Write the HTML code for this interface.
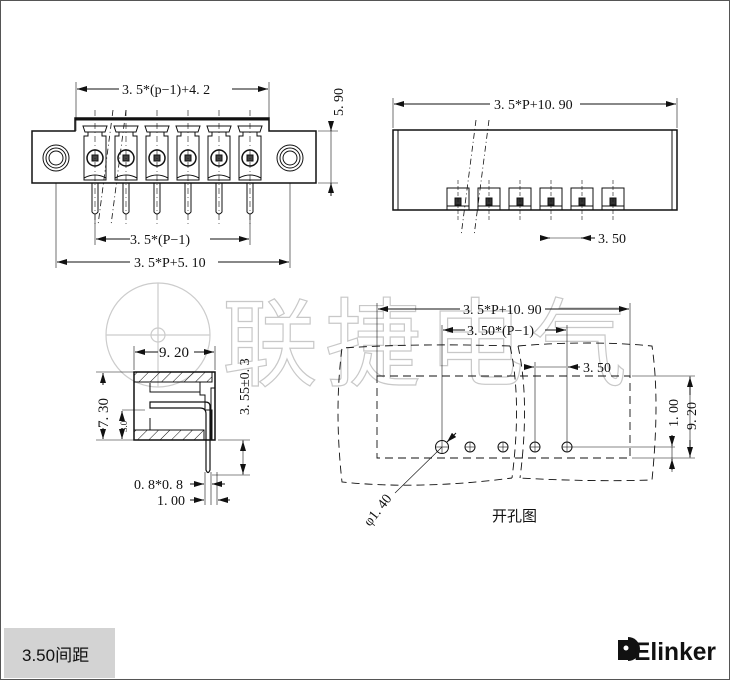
<!DOCTYPE html>
<html><head><meta charset="utf-8"><style>
body{margin:0;background:#fff}
svg{display:block}
text{font-family:"Liberation Serif","Noto Serif CJK SC",serif;font-size:14px;fill:#111}
</style></head><body>
<svg width="730" height="680" viewBox="0 0 730 680" xmlns="http://www.w3.org/2000/svg">
<defs>
<marker id="a" viewBox="0 0 10 6" refX="10" refY="3" markerWidth="10" markerHeight="6" orient="auto-start-reverse"><path d="M0,0L10,3L0,6z" fill="#111"/></marker>
<pattern id="h" width="8" height="8" patternUnits="userSpaceOnUse" patternTransform="rotate(45)"><line x1="0" y1="0" x2="0" y2="8" stroke="#111" stroke-width="1"/></pattern>
</defs>
<rect x="0.5" y="0.5" width="729" height="679" fill="none" stroke="#555"/>
<!-- watermark -->
<g fill="none" stroke="#ccc" stroke-width="1.2">
<circle cx="158" cy="335" r="52"/><circle cx="158" cy="335" r="7"/>
<line x1="106" y1="335" x2="210" y2="335"/><line x1="158" y1="283" x2="158" y2="387"/>
</g>
<text x="222" y="378" style="font-family:'Noto Sans CJK SC',sans-serif;font-size:96px;fill:none;stroke:#c8c8c8;stroke-width:1.2" textLength="405">联捷电气</text>

<g stroke="#111" fill="none" stroke-width="1">
<!-- front view -->
<path d="M32,131H75V118H269V131H316V183H32Z" stroke-width="1.5"/>
<line x1="75" y1="119" x2="269" y2="119" stroke-width="3"/>
<circle cx="56" cy="158" r="13"/><circle cx="56" cy="158" r="10"/><circle cx="56" cy="158" r="7"/>
<circle cx="290" cy="158" r="13"/><circle cx="290" cy="158" r="10"/><circle cx="290" cy="158" r="7"/>
<g id="m">
<path d="M83,126H107L105,132H85Z"/>
<path d="M84,136H88V132H102V136H106V180H84Z"/>
<circle cx="95" cy="158" r="8" stroke-width="1.5"/><rect x="92" y="155" width="6" height="6" fill="#444"/>
<path d="M84,178Q95,172 106,178"/>
<path d="M92,183V212Q95,216 98,212V183"/>
<line x1="95" y1="110" x2="95" y2="225" stroke-dasharray="6,3,1,3" stroke-width=".6"/>
</g>
<use href="#m" x="31"/><use href="#m" x="62"/><use href="#m" x="93"/><use href="#m" x="124"/><use href="#m" x="155"/>
<line x1="113" y1="110" x2="98" y2="225" stroke-dasharray="6,3,1,3" stroke-width=".8"/>
<line x1="126" y1="110" x2="111" y2="225" stroke-dasharray="6,3,1,3" stroke-width=".8"/>
<line x1="76" y1="82" x2="76" y2="131" stroke-width=".6"/><line x1="269" y1="82" x2="269" y2="131" stroke-width=".6"/>
<line x1="77" y1="89" x2="119" y2="89" marker-start="url(#a)"/><line x1="232" y1="89" x2="268" y2="89" marker-end="url(#a)"/>
<line x1="95" y1="215" x2="95" y2="245" stroke-width=".6"/><line x1="250" y1="215" x2="250" y2="245" stroke-width=".6"/>
<line x1="96" y1="239" x2="130" y2="239" marker-start="url(#a)"/><line x1="210" y1="239" x2="249" y2="239" marker-end="url(#a)"/>
<line x1="56" y1="183" x2="56" y2="268" stroke-width=".6"/><line x1="290" y1="183" x2="290" y2="268" stroke-width=".6"/>
<line x1="57" y1="262" x2="130" y2="262" marker-start="url(#a)"/><line x1="218" y1="262" x2="289" y2="262" marker-end="url(#a)"/>
<line x1="318" y1="131" x2="338" y2="131" stroke-width=".6"/><line x1="318" y1="183" x2="338" y2="183" stroke-width=".6"/>
<line x1="331" y1="124" x2="331" y2="131" marker-end="url(#a)"/><line x1="331" y1="196" x2="331" y2="183" marker-end="url(#a)"/>
<line x1="331" y1="131" x2="331" y2="183" stroke-width=".6"/>

<!-- top right view -->
<rect x="393" y="130" width="284" height="80" stroke-width="1.5"/>
<line x1="398" y1="130" x2="398" y2="210"/><line x1="672" y1="130" x2="672" y2="210"/>
<g id="b">
<rect x="447" y="188" width="22" height="22"/>
<rect x="455" y="198" width="6" height="7" fill="#333"/>
<line x1="447" y1="206" x2="469" y2="206"/>
<line x1="458" y1="180" x2="458" y2="222" stroke-dasharray="4,2" stroke-width=".6"/>
</g>
<use href="#b" x="31"/><use href="#b" x="62"/><use href="#b" x="93"/><use href="#b" x="124"/><use href="#b" x="155"/>
<line x1="476" y1="120" x2="461" y2="236" stroke-dasharray="6,3,1,3" stroke-width=".8"/>
<line x1="489" y1="120" x2="474" y2="236" stroke-dasharray="6,3,1,3" stroke-width=".8"/>
<line x1="393" y1="98" x2="393" y2="128" stroke-width=".6"/><line x1="677" y1="98" x2="677" y2="128" stroke-width=".6"/>
<line x1="394" y1="104" x2="490" y2="104" marker-start="url(#a)"/><line x1="580" y1="104" x2="676" y2="104" marker-end="url(#a)"/>
<line x1="540" y1="238" x2="550" y2="238" marker-end="url(#a)"/><line x1="550" y1="238" x2="581" y2="238" stroke-width=".6"/><line x1="595" y1="238" x2="581" y2="238" marker-end="url(#a)"/>

<!-- side view -->
<rect x="134" y="372" width="81" height="68" stroke-width="1.5"/>
<rect x="134" y="372" width="78" height="10" fill="url(#h)"/>
<rect x="134" y="430" width="70" height="10" fill="url(#h)"/>
<path d="M200,382V395H205V410H212V440" />
<path d="M150,383V392H200"/><path d="M150,418V430"/>
<path d="M150,408H200Q206,408 206,414V470Q208,475 210,470V406Q210,402 205,402H150Z" stroke-width="1.2"/>
<rect x="211" y="388" width="4" height="52"/>
<line x1="134" y1="346" x2="134" y2="370" stroke-width=".6"/><line x1="215" y1="346" x2="215" y2="370" stroke-width=".6"/>
<line x1="135" y1="352" x2="158" y2="352" marker-start="url(#a)"/><line x1="194" y1="352" x2="214" y2="352" marker-end="url(#a)"/>
<line x1="96" y1="372" x2="160" y2="372" stroke-width=".6"/><line x1="96" y1="440" x2="134" y2="440" stroke-width=".6"/>
<line x1="103" y1="373" x2="103" y2="385" marker-start="url(#a)"/><line x1="103" y1="428" x2="103" y2="439" marker-end="url(#a)"/>
<line x1="122" y1="410" x2="145" y2="410" stroke-width=".6"/>
<line x1="122" y1="411" x2="122" y2="416" marker-start="url(#a)"/><line x1="122" y1="434" x2="122" y2="439" marker-end="url(#a)"/>
<line x1="218" y1="440" x2="250" y2="440" stroke-width=".6"/><line x1="212" y1="475" x2="250" y2="475" stroke-width=".6"/>
<line x1="243" y1="440" x2="243" y2="475" stroke-width=".6"/>
<line x1="243" y1="450" x2="243" y2="441" marker-end="url(#a)"/><line x1="243" y1="465" x2="243" y2="474" marker-end="url(#a)"/>
<line x1="205" y1="472" x2="205" y2="505" stroke-width=".6"/><line x1="211" y1="472" x2="211" y2="505" stroke-width=".6"/><line x1="217" y1="472" x2="217" y2="505" stroke-width=".6"/>
<line x1="190" y1="484" x2="204" y2="484" marker-end="url(#a)"/><line x1="225" y1="484" x2="212" y2="484" marker-end="url(#a)"/>
<line x1="190" y1="500" x2="204" y2="500" marker-end="url(#a)"/><line x1="230" y1="500" x2="218" y2="500" marker-end="url(#a)"/>

<!-- hole pattern -->
<g stroke-dasharray="8,5" stroke-width=".9">
<path d="M510,346Q420,343 342,348Q334,410 342,482Q420,490 512,478"/>
<path d="M510,346Q522,400 512,478"/>
<path d="M518,346Q530,400 520,478"/>
<path d="M518,346Q590,340 652,346Q660,400 652,480Q590,482 520,478"/>
<rect x="377" y="376" width="253" height="82"/>
</g>
<g stroke-width="1">
<circle cx="442" cy="447" r="6.5"/><circle cx="470" cy="447" r="5"/><circle cx="503" cy="447" r="5"/><circle cx="535" cy="447" r="5"/><circle cx="567" cy="447" r="5"/>
</g>
<g stroke-width=".6">
<line x1="436" y1="447" x2="448" y2="447"/><line x1="442" y1="441" x2="442" y2="453"/>
<line x1="465" y1="447" x2="475" y2="447"/><line x1="470" y1="442" x2="470" y2="452"/>
<line x1="498" y1="447" x2="508" y2="447"/><line x1="503" y1="442" x2="503" y2="452"/>
<line x1="530" y1="447" x2="540" y2="447"/><line x1="535" y1="442" x2="535" y2="452"/>
<line x1="562" y1="447" x2="572" y2="447"/><line x1="567" y1="442" x2="567" y2="452"/>
<line x1="377" y1="303" x2="377" y2="376"/><line x1="630" y1="303" x2="630" y2="376"/>
<line x1="442" y1="325" x2="442" y2="441"/><line x1="567" y1="325" x2="567" y2="442"/><line x1="535" y1="362" x2="535" y2="442"/>
<line x1="572" y1="447" x2="675" y2="447"/><line x1="632" y1="376" x2="695" y2="376"/><line x1="632" y1="458" x2="695" y2="458"/>
<line x1="690" y1="376" x2="690" y2="458"/><line x1="672" y1="440" x2="672" y2="472"/>
<line x1="442" y1="447" x2="395" y2="493"/>
</g>
<line x1="378" y1="309" x2="460" y2="309" marker-start="url(#a)"/><line x1="545" y1="309" x2="629" y2="309" marker-end="url(#a)"/>
<line x1="443" y1="330" x2="465" y2="330" marker-start="url(#a)"/><line x1="545" y1="330" x2="566" y2="330" marker-end="url(#a)"/>
<line x1="525" y1="367" x2="534" y2="367" marker-end="url(#a)"/><line x1="536" y1="367" x2="566" y2="367" stroke-width=".6"/><line x1="580" y1="367" x2="568" y2="367" marker-end="url(#a)"/>
<line x1="690" y1="395" x2="690" y2="377" marker-end="url(#a)"/><line x1="690" y1="440" x2="690" y2="457" marker-end="url(#a)"/>
<line x1="672" y1="435" x2="672" y2="446" marker-end="url(#a)"/><line x1="672" y1="470" x2="672" y2="459" marker-end="url(#a)"/>
<line x1="456" y1="433" x2="447" y2="442" marker-end="url(#a)"/>
</g>

<!-- labels -->
<text x="122" y="94">3. 5*(p−1)+4. 2</text>
<text transform="translate(343,116) rotate(-90)">5. 90</text>
<text x="130" y="244">3. 5*(P−1)</text>
<text x="134" y="267">3. 5*P+5. 10</text>
<text x="494" y="109">3. 5*P+10. 90</text>
<text x="598" y="243">3. 50</text>
<text x="159" y="357" style="font-size:15px">9. 20</text>
<text transform="translate(108,428) rotate(-90)" style="font-size:15px">7. 30</text>
<text transform="translate(127,432) rotate(-90)" style="font-size:9px">3.0</text>
<text transform="translate(249,415) rotate(-90)">3. 55±0. 3</text>
<text x="134" y="489">0. 8*0. 8</text>
<text x="157" y="505">1. 00</text>
<text x="463" y="314">3. 5*P+10. 90</text>
<text x="467" y="335">3. 50*(P−1)</text>
<text x="583" y="372">3. 50</text>
<text transform="translate(678,427) rotate(-90)">1. 00</text>
<text transform="translate(696,430) rotate(-90)">9. 20</text>
<text transform="translate(370,527) rotate(-52)">φ1. 40</text>
<text x="492" y="521" style="font-family:'Noto Sans CJK SC',sans-serif;font-size:15px">开孔图</text>

<!-- footer -->
<rect x="4" y="628" width="111" height="50" fill="#d3d3d3"/>
<text x="22" y="661" style="font-family:'Liberation Sans','Noto Sans CJK SC',sans-serif;font-size:17px">3.50间距</text>
<path d="M618,640H628V660H618Z" fill="#111"/>
<path d="M628,637A12,12 0 0 1 628,661Z" fill="#111"/>
<circle cx="626" cy="648" r="2.5" fill="#fff"/>
<text x="634" y="660" style="font-family:'Liberation Sans',sans-serif;font-weight:bold;font-size:25px" textLength="82" lengthAdjust="spacingAndGlyphs">Elinker</text>
</svg>
</body></html>
